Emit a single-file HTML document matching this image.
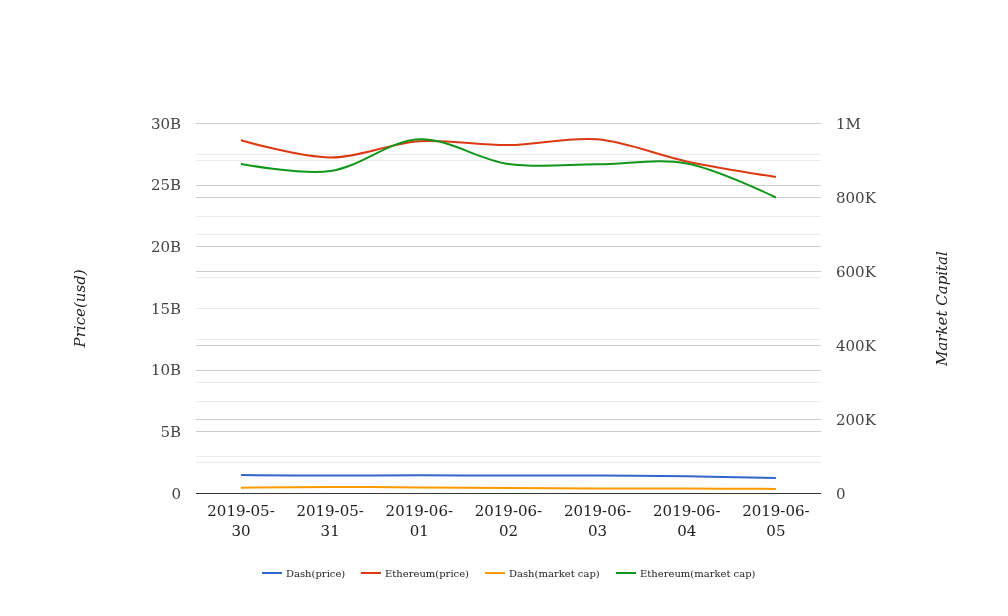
<!DOCTYPE html><html><head><meta charset="utf-8"><style>html,body{margin:0;padding:0;background:#fff;overflow:hidden}svg{display:block;will-change:transform}</style></head><body>
<svg width="1008" height="616">
<rect x="0" y="0" width="1008" height="616" fill="#ffffff"/>
<rect x="196" y="154" width="625" height="1" fill="#ebebeb"/>
<rect x="196" y="216" width="625" height="1" fill="#ebebeb"/>
<rect x="196" y="277" width="625" height="1" fill="#ebebeb"/>
<rect x="196" y="339" width="625" height="1" fill="#ebebeb"/>
<rect x="196" y="401" width="625" height="1" fill="#ebebeb"/>
<rect x="196" y="462" width="625" height="1" fill="#ebebeb"/>
<rect x="196" y="123" width="625" height="1" fill="#cccccc"/>
<rect x="196" y="185" width="625" height="1" fill="#cccccc"/>
<rect x="196" y="246" width="625" height="1" fill="#cccccc"/>
<rect x="196" y="308" width="625" height="1" fill="#cccccc"/>
<rect x="196" y="370" width="625" height="1" fill="#cccccc"/>
<rect x="196" y="431" width="625" height="1" fill="#cccccc"/>
<rect x="196" y="160" width="625" height="1" fill="#ebebeb"/>
<rect x="196" y="234" width="625" height="1" fill="#ebebeb"/>
<rect x="196" y="308" width="625" height="1" fill="#ebebeb"/>
<rect x="196" y="382" width="625" height="1" fill="#ebebeb"/>
<rect x="196" y="456" width="625" height="1" fill="#ebebeb"/>
<rect x="196" y="123" width="625" height="1" fill="#cccccc"/>
<rect x="196" y="197" width="625" height="1" fill="#cccccc"/>
<rect x="196" y="271" width="625" height="1" fill="#cccccc"/>
<rect x="196" y="345" width="625" height="1" fill="#cccccc"/>
<rect x="196" y="419" width="625" height="1" fill="#cccccc"/>
<rect x="196" y="493" width="625" height="1" fill="#333333"/>
<path d="M241.00,475.10C241.00,475.10,300.43,475.47,330.15,475.50C359.87,475.53,389.58,475.30,419.30,475.30C449.02,475.30,478.73,475.48,508.45,475.50C538.17,475.52,567.88,475.27,597.60,475.40C627.32,475.53,657.03,475.88,686.75,476.30C716.47,476.72,775.90,477.90,775.90,477.90" stroke="#3366cc" stroke-width="2" fill="none"/>
<path d="M241.00,140.30C241.00,140.30,300.41,157.35,330.15,157.50C359.84,157.65,389.35,143.28,419.30,141.20C448.79,139.15,478.75,145.42,508.45,145.10C538.18,144.78,568.29,136.62,597.60,139.30C627.73,142.05,656.81,155.07,686.75,161.40C716.25,167.64,775.90,177.00,775.90,177.00" stroke="#dc3912" stroke-width="2" fill="none"/>
<path d="M241.00,487.70C241.00,487.70,300.43,486.95,330.15,486.90C359.87,486.85,389.58,487.20,419.30,487.40C449.02,487.60,478.73,487.93,508.45,488.10C538.17,488.27,567.88,488.33,597.60,488.40C627.32,488.47,657.03,488.42,686.75,488.50C716.47,488.58,775.90,488.90,775.90,488.90" stroke="#ff9900" stroke-width="2" fill="none"/>
<path d="M241.00,163.90C241.00,163.90,301.27,175.08,330.15,171.10C360.71,166.88,389.24,140.50,419.30,139.30C448.68,138.13,478.18,159.76,508.45,164.00C537.62,168.09,567.88,164.40,597.60,164.30C627.32,164.20,658.05,158.06,686.75,163.40C717.48,169.12,775.90,197.50,775.90,197.50" stroke="#109618" stroke-width="2" fill="none"/>
<text x="181" y="498.75" text-anchor="end" font-family="DejaVu Serif, serif" font-size="15" fill="#444444">0</text>
<text x="181" y="436.75" text-anchor="end" font-family="DejaVu Serif, serif" font-size="15" fill="#444444">5B</text>
<text x="181" y="374.75" text-anchor="end" font-family="DejaVu Serif, serif" font-size="15" fill="#444444">10B</text>
<text x="181" y="313.75" text-anchor="end" font-family="DejaVu Serif, serif" font-size="15" fill="#444444">15B</text>
<text x="181" y="251.75" text-anchor="end" font-family="DejaVu Serif, serif" font-size="15" fill="#444444">20B</text>
<text x="181" y="189.75" text-anchor="end" font-family="DejaVu Serif, serif" font-size="15" fill="#444444">25B</text>
<text x="181" y="128.75" text-anchor="end" font-family="DejaVu Serif, serif" font-size="15" fill="#444444">30B</text>
<text x="836" y="498.75" text-anchor="start" font-family="DejaVu Serif, serif" font-size="15" fill="#444444">0</text>
<text x="836" y="424.75" text-anchor="start" font-family="DejaVu Serif, serif" font-size="15" fill="#444444">200K</text>
<text x="836" y="350.75" text-anchor="start" font-family="DejaVu Serif, serif" font-size="15" fill="#444444">400K</text>
<text x="836" y="276.75" text-anchor="start" font-family="DejaVu Serif, serif" font-size="15" fill="#444444">600K</text>
<text x="836" y="202.75" text-anchor="start" font-family="DejaVu Serif, serif" font-size="15" fill="#444444">800K</text>
<text x="836" y="128.75" text-anchor="start" font-family="DejaVu Serif, serif" font-size="15" fill="#444444">1M</text>
<text x="241.00" y="516" text-anchor="middle" font-family="DejaVu Serif, serif" font-size="15" fill="#222222">2019-05-</text>
<text x="241.00" y="536" text-anchor="middle" font-family="DejaVu Serif, serif" font-size="15" fill="#222222">30</text>
<text x="330.15" y="516" text-anchor="middle" font-family="DejaVu Serif, serif" font-size="15" fill="#222222">2019-05-</text>
<text x="330.15" y="536" text-anchor="middle" font-family="DejaVu Serif, serif" font-size="15" fill="#222222">31</text>
<text x="419.30" y="516" text-anchor="middle" font-family="DejaVu Serif, serif" font-size="15" fill="#222222">2019-06-</text>
<text x="419.30" y="536" text-anchor="middle" font-family="DejaVu Serif, serif" font-size="15" fill="#222222">01</text>
<text x="508.45" y="516" text-anchor="middle" font-family="DejaVu Serif, serif" font-size="15" fill="#222222">2019-06-</text>
<text x="508.45" y="536" text-anchor="middle" font-family="DejaVu Serif, serif" font-size="15" fill="#222222">02</text>
<text x="597.60" y="516" text-anchor="middle" font-family="DejaVu Serif, serif" font-size="15" fill="#222222">2019-06-</text>
<text x="597.60" y="536" text-anchor="middle" font-family="DejaVu Serif, serif" font-size="15" fill="#222222">03</text>
<text x="686.75" y="516" text-anchor="middle" font-family="DejaVu Serif, serif" font-size="15" fill="#222222">2019-06-</text>
<text x="686.75" y="536" text-anchor="middle" font-family="DejaVu Serif, serif" font-size="15" fill="#222222">04</text>
<text x="775.90" y="516" text-anchor="middle" font-family="DejaVu Serif, serif" font-size="15" fill="#222222">2019-06-</text>
<text x="775.90" y="536" text-anchor="middle" font-family="DejaVu Serif, serif" font-size="15" fill="#222222">05</text>
<text transform="translate(85,308.4) rotate(-90)" x="0" y="0" text-anchor="middle" font-family="DejaVu Serif, serif" font-size="15" font-style="italic" fill="#222222">Price(usd)</text>
<text transform="translate(947.3,308.6) rotate(-90)" x="0" y="0" text-anchor="middle" font-family="DejaVu Serif, serif" font-size="15" font-style="italic" fill="#222222">Market Capital</text>
<rect x="262" y="572" width="20" height="2" fill="#3366cc"/>
<text x="286" y="577" font-family="DejaVu Serif, serif" font-size="10" fill="#222222">Dash(price)</text>
<rect x="361" y="572" width="20" height="2" fill="#dc3912"/>
<text x="385" y="577" font-family="DejaVu Serif, serif" font-size="10" fill="#222222">Ethereum(price)</text>
<rect x="485" y="572" width="20" height="2" fill="#ff9900"/>
<text x="509" y="577" font-family="DejaVu Serif, serif" font-size="10" fill="#222222">Dash(market cap)</text>
<rect x="616" y="572" width="20" height="2" fill="#109618"/>
<text x="640" y="577" font-family="DejaVu Serif, serif" font-size="10" fill="#222222">Ethereum(market cap)</text>
</svg></body></html>
